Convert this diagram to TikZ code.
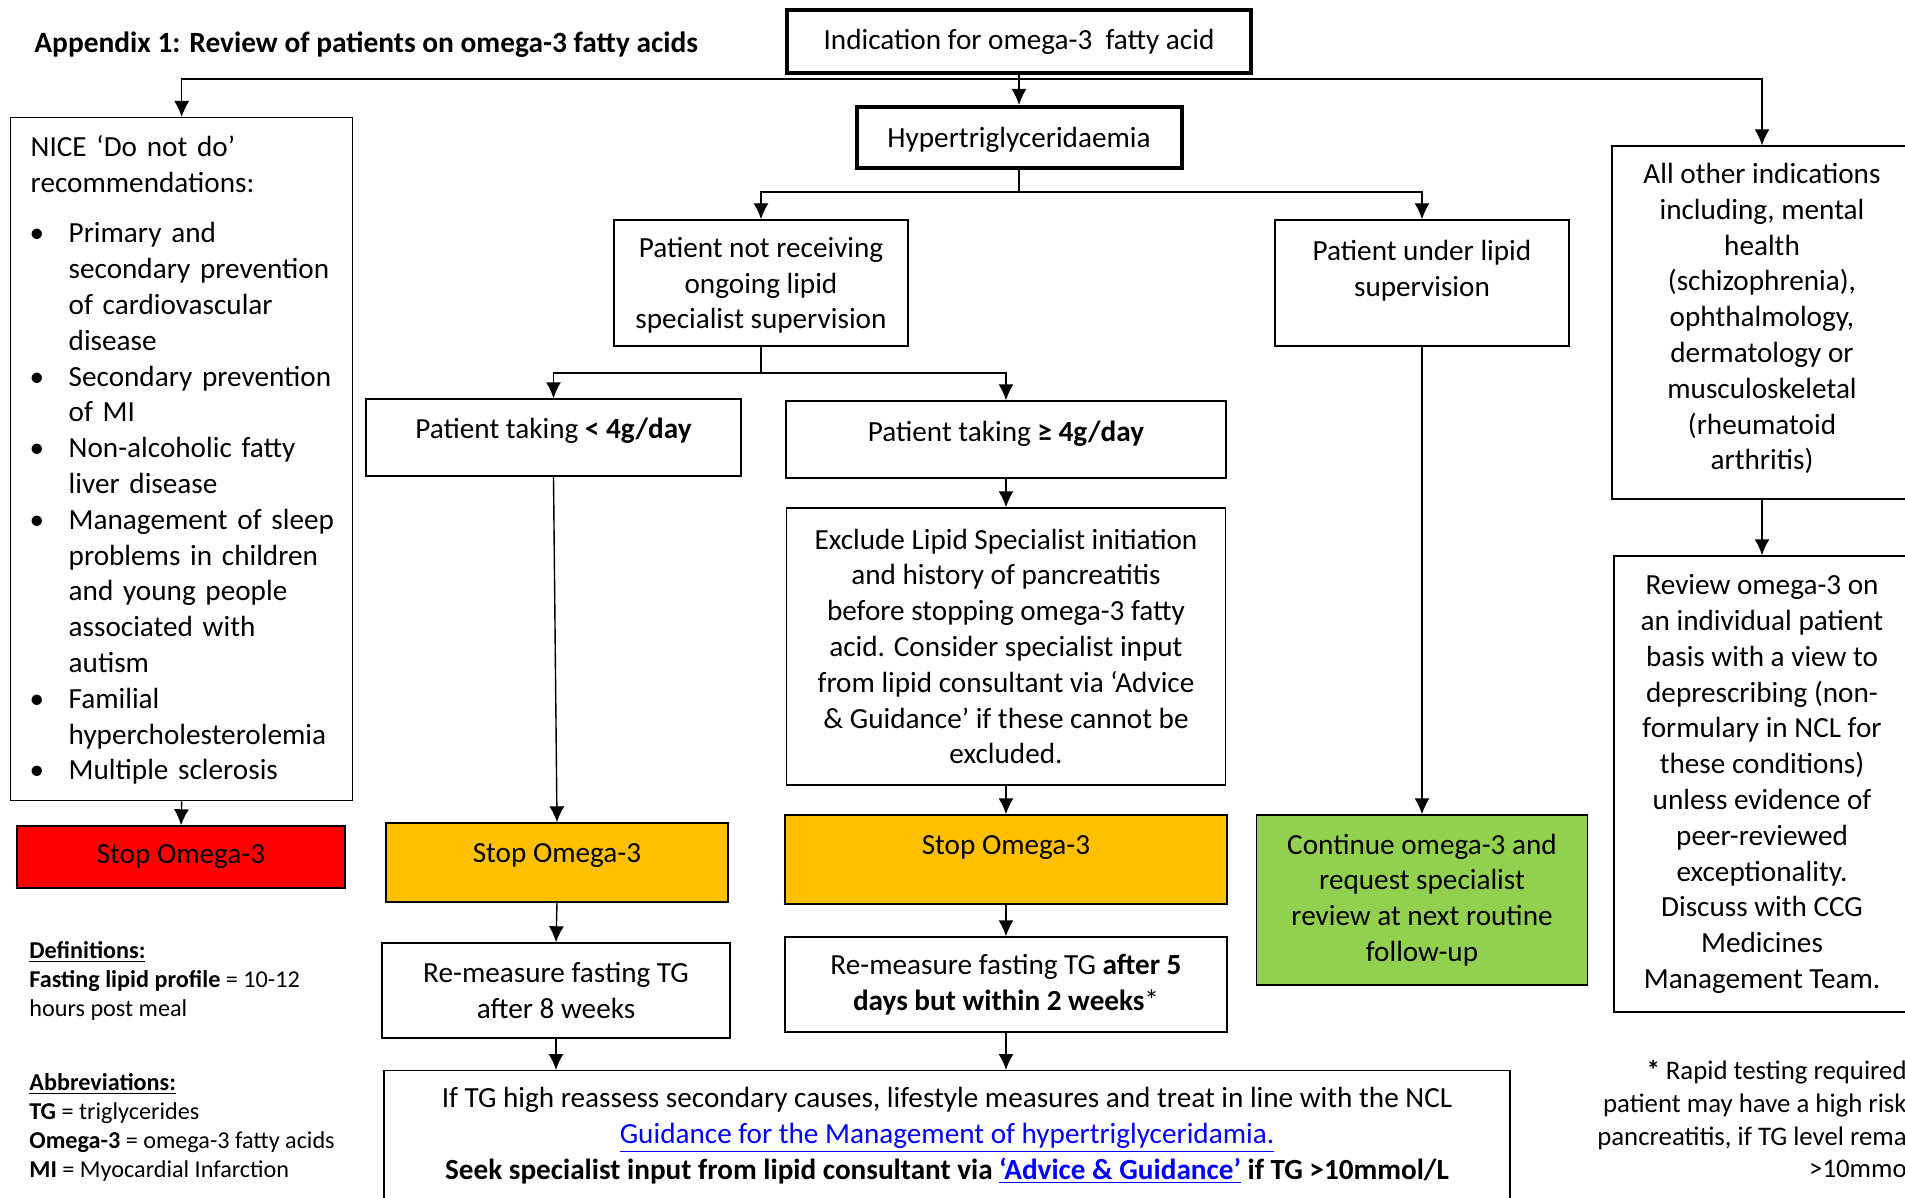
\documentclass[tikz,border=0pt]{standalone}
\usepackage{fontspec}
\setmainfont{Carlito}
\usetikzlibrary{arrows.meta}
\definecolor{stopred}{HTML}{FF0000}
\definecolor{stopamber}{HTML}{FFC000}
\definecolor{gogreen}{HTML}{92D050}
\definecolor{linkblue}{HTML}{0000FF}
\newcommand{\mainsize}{\fontsize{14.6}{17.9}\selectfont}
\newcommand{\notesize}{\fontsize{12.1}{14.6}\selectfont}
\tikzset{
  box/.style={draw, line width=0.7pt, align=center, inner xsep=4pt, inner ysep=0pt, font=\mainsize},
  bigbox/.style={box, line width=2pt},
  flow/.style={-{Latex[length=8pt,width=7.5pt]}, line width=0.7pt},
  plain/.style={line width=0.7pt},
}
\begin{document}
\begin{tikzpicture}[x=0.5pt, y=-0.5pt]
\useasboundingbox (0,0) rectangle (1905,1198);
\clip (0,0) rectangle (1905,1198);

% title
\node[anchor=west, inner sep=0pt, font=\fontsize{14.7}{17.9}\selectfont\bfseries] (title) at (34,45) {Appendix 1: Review of patients on omega-3 fatty acids};

% top of the tree
\node[bigbox, minimum width=232pt, minimum height=31.5pt] (ind) at (1019,41.5) {Indication for omega-3\ \ fatty acid};
\node[bigbox, minimum width=162.5pt, minimum height=30.5pt, text depth=0pt] (hyper) at (1019,137.5) {Hypertriglyceridaemia};

% NICE column
\node[box, anchor=north west, minimum width=171pt, minimum height=341.5pt, inner xsep=10pt, text width=151pt, align=left] (nice) at (10,117) {\rule{0pt}{14.5pt}NICE ‘Do not do’\\ recommendations:\\[11.6pt]
\begin{tabular}{@{\hspace{-0.5pt}}p{19.5pt}@{}l@{}}
\textbullet & Primary and\\
 & secondary prevention\\
 & of cardiovascular\\
 & disease\\
\textbullet & Secondary prevention\\
 & of MI\\
\textbullet & Non-alcoholic fatty\\
 & liver disease\\
\textbullet & Management of sleep\\
 & problems in children\\
 & and young people\\
 & associated with\\
 & autism\\
\textbullet & Familial\\
 & hypercholesterolemia\\
\textbullet & Multiple sclerosis
\end{tabular}};
\node[box, fill=stopred, minimum width=164pt, minimum height=31pt] (stopR) at (181,857) {Stop Omega-3};

% hypertriglyceridaemia branches
\node[box, minimum width=147pt, minimum height=63pt, text depth=0pt] (notrec) at (761,283) {Patient not receiving\\ ongoing lipid\\ specialist supervision};
\node[box, minimum width=147pt, minimum height=63pt, text depth=15pt] (under) at (1422,283) {Patient under lipid\\ supervision};

\node[box, minimum width=187.5pt, minimum height=38.5pt, text depth=9.5pt] (less) at (553.5,437.5) {Patient taking \textbf{< 4g/day}};
\node[box, minimum width=220pt, minimum height=38.5pt, text depth=8.5pt] (more) at (1006,439.5) {Patient taking \textbf{≥ 4g/day}};
\node[box, minimum width=219.5pt, minimum height=138.5pt] (excl) at (1006,646.5) {Exclude Lipid Specialist initiation\\ and history of pancreatitis\\ before stopping omega-3 fatty\\ acid. Consider specialist input\\ from lipid consultant via ‘Advice\\ \& Guidance’ if these cannot be\\ excluded.};

\node[box, fill=stopamber, minimum width=171pt, minimum height=39.5pt, text depth=9.5pt] (stopA) at (557,862.5) {Stop Omega-3};
\node[box, fill=stopamber, minimum width=221pt, minimum height=44.5pt, text depth=14.5pt] (stopB) at (1006,859.5) {Stop Omega-3};
\node[box, fill=gogreen, minimum width=165.5pt, minimum height=85pt] (cont) at (1422,900) {Continue omega-3 and\\ request specialist\\ review at next routine\\ follow-up};

\node[box, minimum width=174pt, minimum height=47.5pt] (rem8) at (556,990.5) {Re-measure fasting TG\\ after 8 weeks};
\node[box, minimum width=221pt, minimum height=47.5pt] (rem5) at (1006,984.5) {Re-measure fasting TG \textbf{after 5}\\ \textbf{days but within 2 weeks}*};

\node[box, anchor=north, minimum width=563pt, inner ysep=8.5pt, text depth=20pt] (advice) at (947,1070) {If TG high reassess secondary causes, lifestyle measures and treat in line with the NCL\\
\textcolor{linkblue}{\underline{Guidance for the Management of hypertriglyceridamia.}}\\
\textbf{Seek specialist input from lipid consultant via \textcolor{linkblue}{\underline{‘Advice \& Guidance’}} if TG >10mmol/L}};

% other indications
\node[box, minimum width=150pt, minimum height=176.5pt, text depth=6pt] (other) at (1762,322.5) {All other indications\\ including, mental\\ health\\ (schizophrenia),\\ ophthalmology,\\ dermatology or\\ musculoskeletal\\ (rheumatoid\\ arthritis)};
\node[box, minimum width=148pt, minimum height=228pt] (review) at (1762,784) {Review omega-3 on\\ an individual patient\\ basis with a view to\\ deprescribing (non-\\ formulary in NCL for\\ these conditions)\\ unless evidence of\\ peer-reviewed\\ exceptionality.\\ Discuss with CCG\\ Medicines\\ Management Team.};

% notes
\node[anchor=north west, align=left, inner sep=0pt, font=\notesize] (defs) at (29,941) {\textbf{\underline{Definitions:}}\\ \textbf{Fasting lipid profile} = 10-12\\ hours post meal\\[22pt] \textbf{\underline{Abbreviations:}}\\ \textbf{TG} = triglycerides\\ \textbf{Omega-3} = omega-3 fatty acids\\ \textbf{MI} = Myocardial Infarction};
\node[anchor=north east, align=right, inner sep=0pt, font=\fontsize{13.4}{16.4}\selectfont] (star) at (1907,1060) {\textbf{*} Rapid testing required\\ patient may have a high risk\\ pancreatitis, if TG level rema\\ >10mmo};

% connectors
\coordinate (j1) at (ind.south |- 0,79);
\draw[plain] (ind.south) -- (j1);
\draw[flow] (j1) -| (nice.north);
\draw[flow] (j1) -- (hyper.north);
\draw[flow] (j1) -| (other.north);

\coordinate (j2) at (hyper.south |- 0,192);
\draw[plain] (hyper.south) -- (j2);
\draw[flow] (j2) -| (notrec.north);
\draw[flow] (j2) -| (under.north);

\coordinate (j3) at (notrec.south |- 0,373);
\draw[plain] (notrec.south) -- (j3);
\draw[flow] (j3) -| (less.north);
\draw[flow] (j3) -| (more.north);

\draw[flow] (nice.south) -- (stopR.north);
\draw[flow] (less.south) -- (stopA.north);
\draw[flow] (more.south) -- (excl.north);
\draw[flow] (excl.south) -- (stopB.north);
\draw[flow] (under.south) -- (cont.north);
\draw[flow] (other.south) -- (review.north);
\draw[flow] (stopA.south) -- (rem8.north);
\draw[flow] (stopB.south) -- (rem5.north);
\draw[flow] (rem8.south) -- (rem8.south |- advice.north);
\draw[flow] (rem5.south) -- (rem5.south |- advice.north);
\end{tikzpicture}
\end{document}
